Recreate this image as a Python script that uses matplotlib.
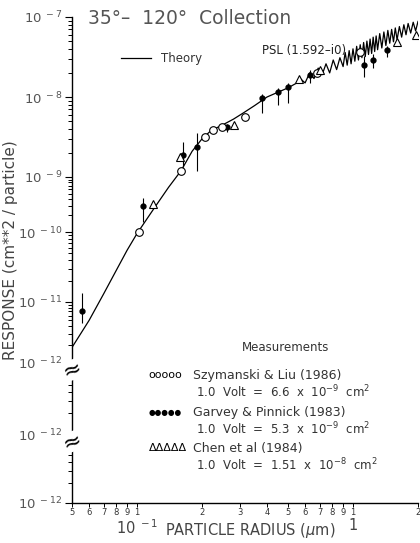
import numpy as np
import matplotlib
matplotlib.use('Agg')
import matplotlib.pyplot as plt
import matplotlib.transforms as mtransforms
from matplotlib.ticker import FixedLocator, FixedFormatter

plt.rcParams['font.family'] = ['DejaVu Sans']
plt.rcParams['mathtext.fontset'] = 'dejavusans'

# theory curve (PSL, m = 1.592 - i0)
theory_r = [0.05, 0.06, 0.07, 0.08, 0.09, 0.10, 0.12, 0.14, 0.16, 0.18,
            0.20, 0.22, 0.25, 0.28, 0.31, 0.35, 0.40, 0.45, 0.50, 0.55,
            0.57, 0.60, 0.63, 0.66, 0.69, 0.72, 0.75, 0.78, 0.81, 0.84,
            0.87, 0.90, 0.92, 0.94, 0.96, 0.98, 1.00, 1.02, 1.04, 1.06,
            1.08, 1.10, 1.12, 1.14, 1.16, 1.18, 1.20, 1.22, 1.24, 1.26,
            1.28, 1.30, 1.33, 1.36, 1.39, 1.42, 1.45, 1.48, 1.51, 1.54,
            1.57, 1.60, 1.64, 1.68, 1.72, 1.76, 1.80, 1.85, 1.90, 1.95, 2.0]
theory_y = [1.8e-12, 5.0e-12, 1.3e-11, 2.8e-11, 5.5e-11, 9.5e-11, 2.7e-10, 6.5e-10, 1.2e-9, 2.1e-9,
            3.0e-9, 3.8e-9, 4.5e-9, 5.3e-9, 6.3e-9, 7.8e-9, 1.0e-8, 1.15e-8, 1.3e-8, 1.5e-8,
            1.7e-8, 1.5e-8, 2.0e-8, 1.7e-8, 2.3e-8, 1.9e-8, 2.6e-8, 2.0e-8, 2.9e-8, 2.2e-8,
            3.1e-8, 2.4e-8, 3.6e-8, 2.5e-8, 3.8e-8, 2.6e-8, 4.0e-8, 2.8e-8, 4.3e-8, 2.9e-8,
            4.5e-8, 3.1e-8, 4.8e-8, 3.2e-8, 5.0e-8, 3.4e-8, 5.3e-8, 3.5e-8, 5.6e-8, 3.7e-8,
            5.8e-8, 3.9e-8, 6.2e-8, 4.1e-8, 6.5e-8, 4.4e-8, 6.8e-8, 4.7e-8, 7.0e-8, 4.9e-8,
            7.3e-8, 5.2e-8, 7.6e-8, 5.6e-8, 8.0e-8, 6.0e-8, 8.3e-8, 6.3e-8, 8.6e-8, 6.7e-8, 8.8e-8]

# Szymanski & Liu (1986)
szy_r = [0.102, 0.160, 0.206, 0.225, 0.247, 0.316, 0.68, 1.08]
szy_y = [1.0e-10, 1.2e-9, 3.2e-9, 3.9e-9, 4.2e-9, 5.6e-9, 2.0e-8, 3.6e-8]

# Chen et al (1984)
chen_r = [0.119, 0.158, 0.28, 0.56, 0.70, 1.6, 1.95]
chen_y = [3.2e-10, 1.8e-9, 4.5e-9, 1.7e-8, 2.2e-8, 4.9e-8, 6.0e-8]

# Garvey & Pinnick (1983), with error bars
gar_r = [0.0556, 0.107, 0.163, 0.19, 0.26, 0.38, 0.45, 0.50, 0.63, 1.13, 1.24, 1.43]
gar_y = [7.1e-12, 3.0e-10, 1.9e-9, 2.4e-9, 4.2e-9, 9.8e-9, 1.15e-8, 1.33e-8, 1.9e-8, 2.5e-8, 2.9e-8, 3.9e-8]
gar_lo = [4.5e-12, 1.5e-10, 1.33e-9, 1.2e-9, 3.6e-9, 6.3e-9, 8.0e-9, 8.4e-9, 1.5e-8, 1.8e-8, 2.3e-8, 3.2e-8]
gar_hi = [1.35e-11, 4.2e-10, 2.7e-9, 3.5e-9, 4.6e-9, 1.1e-8, 1.3e-8, 1.5e-8, 2.2e-8, 3.3e-8, 3.4e-8, 4.4e-8]

y_ticks = [1e-14, 1e-13, 1e-12, 1e-11, 1e-10, 1e-9, 1e-8, 1e-7]
y_labels = ['$10^{\\ -12}$', '$10^{\\ -12}$', '$10^{\\ -12}$', '$10^{\\ -11}$',
            '$10^{\\ -10}$', '$10^{\\ -9}$', '$10^{\\ -8}$', '$10^{\\ -7}$']
x_minor = [0.05, 0.06, 0.07, 0.08, 0.09, 0.1, 0.2, 0.3, 0.4, 0.5, 0.6, 0.7, 0.8, 0.9, 1.0, 2.0]
x_minor_lab = ['5', '6', '7', '8', '9', '1', '2', '3', '4', '5', '6', '7', '8', '9', '1', '2']

# the original axis has uneven decade lengths, mimic with a piecewise log scale
dec_exp = np.arange(-14, -6)
dec_pos = np.array([0., 68., 140., 201., 271., 326., 406., 486.])

def fwd(y):
    l = np.log10(np.clip(y, 1e-300, None))
    return (np.interp(l, dec_exp, dec_pos) + np.where(l < -14, (l + 14) * 68, 0)
            + np.where(l > -7, (l + 7) * 80, 0))

def inv(p):
    p = np.asarray(p, dtype=float)
    l = (np.interp(p, dec_pos, dec_exp) + np.where(p < 0, p / 68, 0)
         + np.where(p > 486, (p - 486) / 80, 0))
    return 10 ** l

fig = plt.figure(figsize=(4.2, 5.43), dpi=100)
ax = fig.add_axes([72/420, 1-503/543, 346/420, 486/543])
ax.set_xscale('log')
ax.set_yscale('function', functions=(fwd, inv))
ax.set_xlim(0.05, 2)
ax.set_ylim(1e-14, 1e-7)

ax.plot(theory_r, theory_y, color='k', lw=0.9, label='Theory', zorder=2)
ax.errorbar(gar_r, gar_y, yerr=[np.array(gar_y) - np.array(gar_lo), np.array(gar_hi) - np.array(gar_y)],
            fmt='o', ms=3.5, color='k', elinewidth=0.8, capsize=0, zorder=3)
ax.plot(szy_r, szy_y, 'o', mfc='white', mec='k', ms=5.5, mew=0.8, zorder=4)
ax.plot(chen_r, chen_y, '^', mfc='white', mec='k', ms=5.5, mew=0.8, zorder=4)

for s in ['top', 'right']:
    ax.spines[s].set_visible(False)
for s in ['left', 'bottom']:
    ax.spines[s].set_linewidth(1.0)

ax.yaxis.set_major_locator(FixedLocator(y_ticks))
ax.yaxis.set_major_formatter(FixedFormatter(y_labels))
ax.yaxis.set_minor_locator(FixedLocator([k * 10.0**e for e in range(-14, -7) for k in range(2, 10)]))
ax.tick_params(axis='y', which='major', direction='out', length=5, width=0.8,
               labelsize=9.5, labelcolor='#555555', pad=2)
ax.tick_params(axis='y', which='minor', direction='out', length=3, width=0.7)

ax.xaxis.remove_overlapping_locs = False
ax.xaxis.set_major_locator(FixedLocator([0.1, 1.0]))
ax.xaxis.set_major_formatter(FixedFormatter(['$10^{\\ -1}$', '1']))
ax.xaxis.set_minor_locator(FixedLocator(x_minor))
ax.xaxis.set_minor_formatter(FixedFormatter(x_minor_lab))
ax.tick_params(axis='x', which='major', length=0, labelsize=10.5, labelcolor='#444444', pad=11)
ax.tick_params(axis='x', which='minor', direction='out', length=3, width=0.7,
               labelsize=6, labelcolor='#333333', pad=0.5)

# axis break marks
brk = mtransforms.blended_transform_factory(ax.transAxes, ax.transData)
for yb in [1e-12, 1e-13]:
    ax.text(0, yb * 0.8, '\u2248', transform=brk, fontsize=16, ha='center', va='center',
            rotation=20, color='k', zorder=6, clip_on=False,
            bbox=dict(boxstyle='square,pad=0.0', fc='white', ec='none'))

ax.legend(loc='upper left', bbox_to_anchor=(0.11, 0.95), frameon=False, fontsize=8.5,
          handlelength=2.6, labelcolor='#333333')

ax.text(0.55, 0.932, 'PSL (1.592\u2013i0)', transform=ax.transAxes, fontsize=8.5,
        color='#222222', va='center')
fig.text(88/420, 1-18/543, '35\u00b0\u2013  120\u00b0  Collection', fontsize=13.5,
         color='#555555', va='center')

tc = '#333333'
ax.text(0.616, 0.319, 'Measurements', transform=ax.transAxes, fontsize=8.5, ha='center',
        va='center', color=tc)
rows = [('ooooo', 'Szymanski & Liu (1986)', '1.0  Volt  =  6.6  x  10$^{-9}$  cm$^2$'),
        ('\u25cf\u25cf\u25cf\u25cf\u25cf', 'Garvey & Pinnick (1983)', '1.0  Volt  =  5.3  x  10$^{-9}$  cm$^2$'),
        ('\u0394\u0394\u0394\u0394\u0394', 'Chen et al (1984)', '1.0  Volt  =  1.51  x  10$^{-8}$  cm$^2$')]
y0 = [0.263, 0.187, 0.113]
for (sym, name, volt), yy in zip(rows, y0):
    fs = 5.5 if sym.startswith('\u25cf') else 8
    ax.text(0.222, yy, sym, transform=ax.transAxes, fontsize=fs, va='center', color='k')
    ax.text(0.35, yy, name, transform=ax.transAxes, fontsize=9, va='center', color=tc)
    ax.text(0.358, yy - 0.035, volt, transform=ax.transAxes, fontsize=8.5, va='center', color=tc)

fig.text(11/420, 1-250/543, 'RESPONSE (cm**2 / particle)', rotation=90, fontsize=11,
         ha='center', va='center', color='#444444')
fig.text(250/420, 1-530/543, 'PARTICLE RADIUS ($\\mu$m)', fontsize=10.5,
         ha='center', va='center', color='#444444')

fig.savefig('out.png', dpi=100)
